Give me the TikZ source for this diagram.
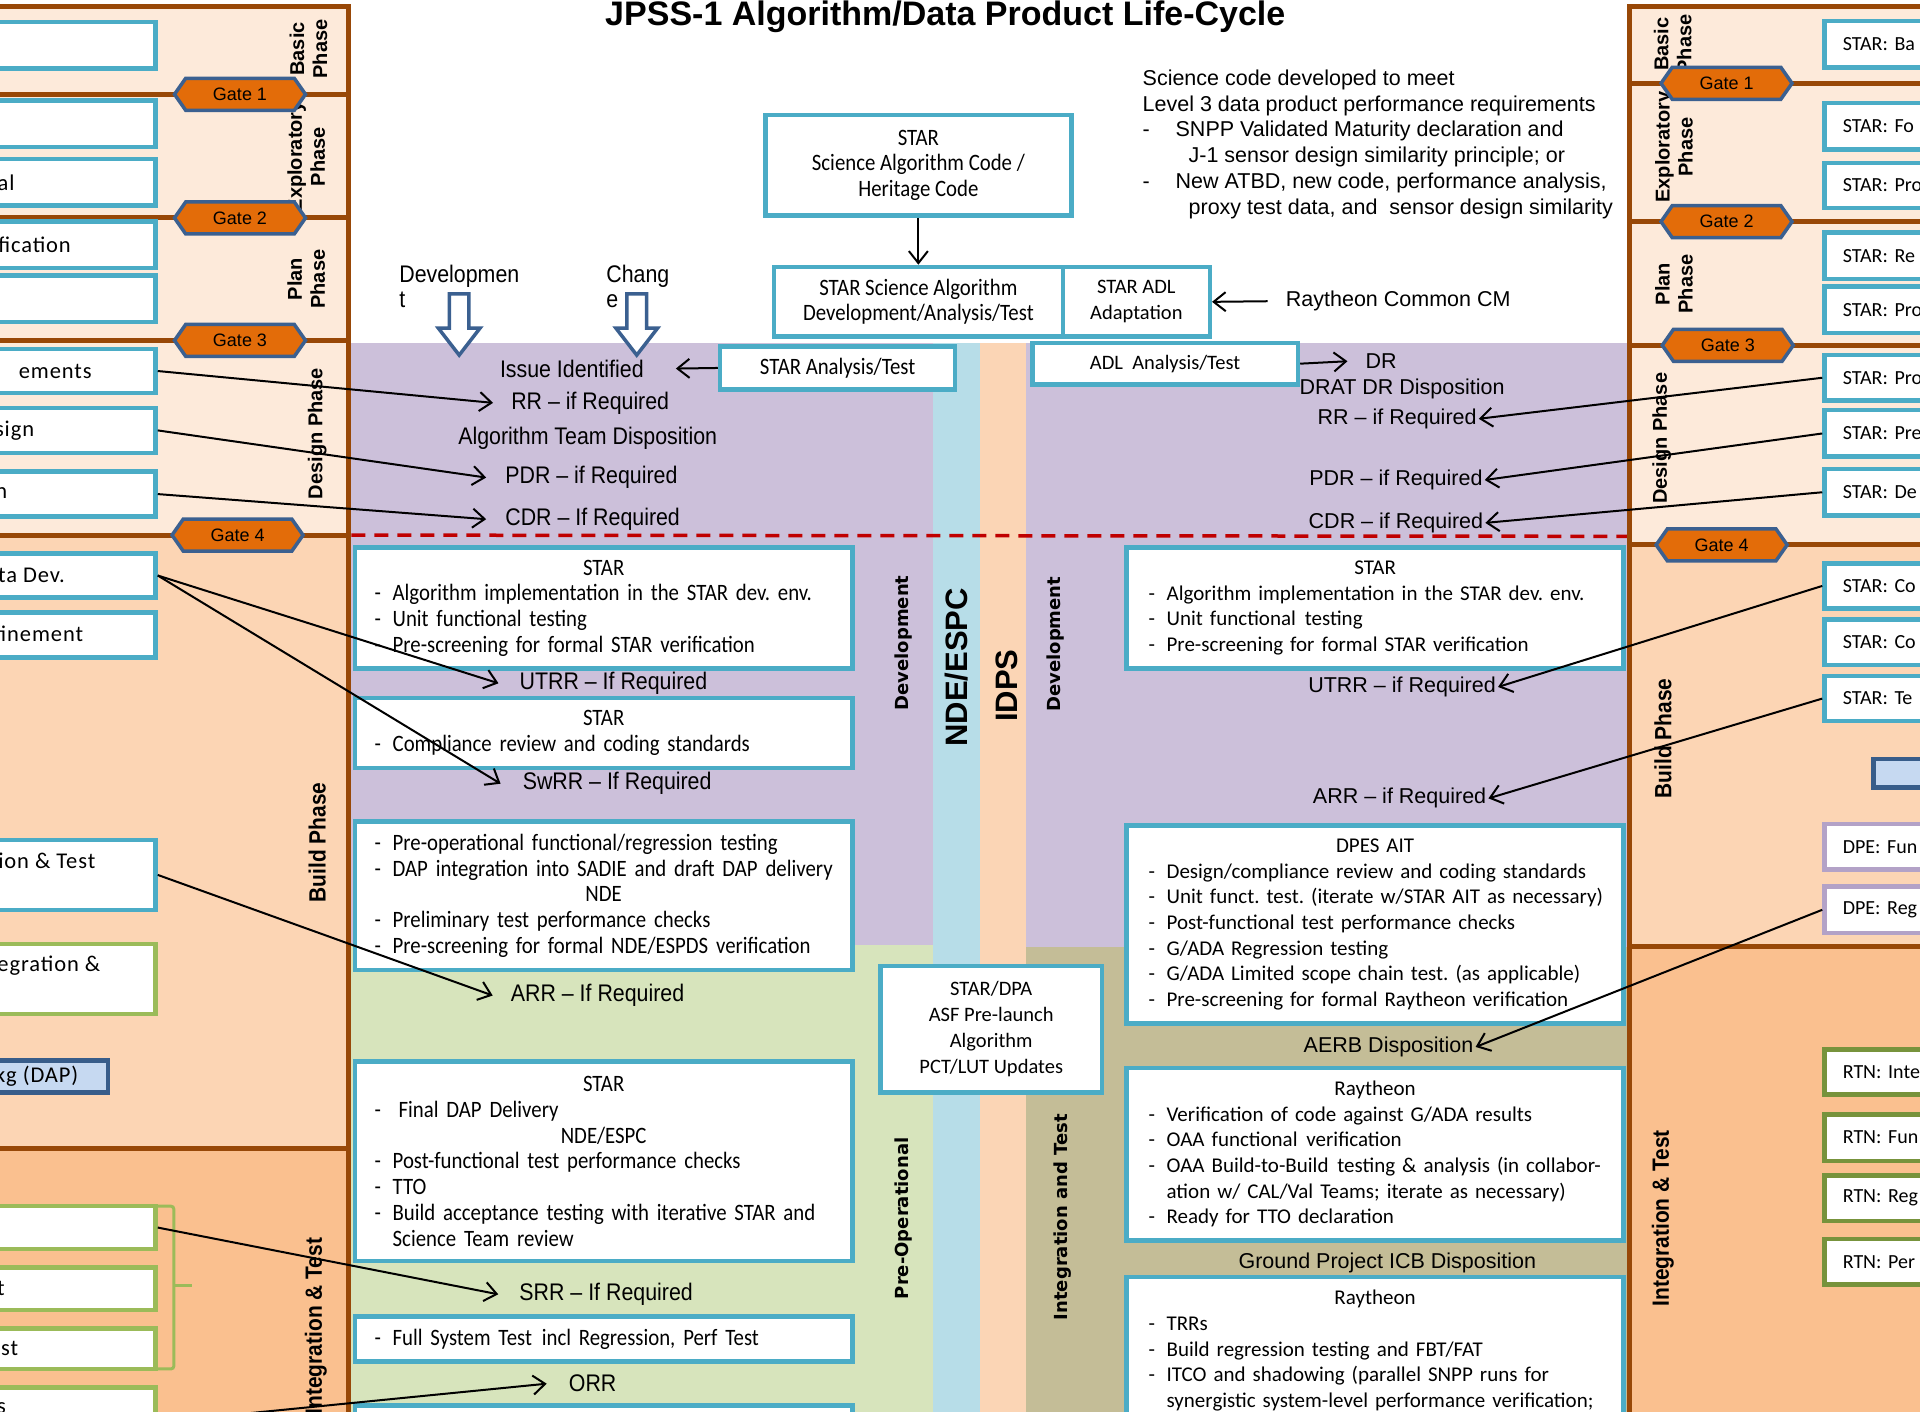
\documentclass[tikz,border=0pt]{standalone}
\usepackage{fontspec}
\usetikzlibrary{arrows.meta,shapes.symbols}
\newfontfamily\fcal{Carlito}
\newfontfamily\fcaln[FakeStretch=0.885]{Carlito}
\newfontfamily\fcalw[LetterSpace=4]{Carlito}
\newfontfamily\fari{Liberation Sans}
\newfontfamily\farin[FakeStretch=0.89]{Liberation Sans}
\newfontfamily\fdej{DejaVu Sans}

\definecolor{boxblue}{HTML}{4BACC6}
\definecolor{brownline}{HTML}{984807}
\definecolor{phlight}{HTML}{FDEADA}
\definecolor{phbuild}{HTML}{FCD5B4}
\definecolor{phint}{HTML}{FAC08F}
\definecolor{devpurple}{HTML}{CCC0DA}
\definecolor{opgreen}{HTML}{D7E4BC}
\definecolor{itkhaki}{HTML}{C4BD97}
\definecolor{ndeblue}{HTML}{B7DDE8}
\definecolor{idpspeach}{HTML}{FBD5B5}
\definecolor{gateorange}{HTML}{E36C09}
\definecolor{gateblue}{HTML}{3B6090}
\definecolor{dashred}{HTML}{C00000}
\definecolor{grnbox}{HTML}{9BBB59}
\definecolor{rtngreen}{HTML}{77933C}
\definecolor{dpepurple}{HTML}{B3A2C7}
\definecolor{dapfill}{HTML}{C6D9F1}
\definecolor{dapedge}{HTML}{385D8A}

% box content helpers: every line spans the full text width
\newcommand\hd[1]{\makebox[\hsize]{#1}}
\newcommand\itm[1]{\makebox[\hsize][l]{\makebox[18pt][l]{-}#1}}
\newcommand\cont[1]{\makebox[\hsize][l]{\hspace*{18pt}#1}}
\newcommand\sbt[1]{\makebox[245pt][l]{#1}}
\newcommand\wsp{\hspace{0.42em}}

\tikzset{
  corners/.code args={#1/#2/#3/#4}{%
    \pgfmathsetmacro\cwd{(#3-#1)*1.2245}%
    \pgfmathsetmacro\cht{(#4-#2)*1.2245}%
    \pgfmathsetmacro\ccx{(#1+#3)/2}%
    \pgfmathsetmacro\ccy{(#2+#4)/2}%
    \pgfkeysalso{at={(\ccx,\ccy)}, minimum width=\cwd pt, minimum height=\cht pt}},
  bx/.style={draw=boxblue, line width=4.5pt, fill=white, inner sep=0pt},
  gbx/.style={bx, draw=grnbox},
  pbx/.style={bx, draw=dpepurple},
  tbx/.style={bx, draw=rtngreen},
  dapbx/.style={bx, draw=dapedge, fill=dapfill},
  cbox/.style={bx, text width=458pt, align=left, font=\fcaln\fontsize{23.5}{25.7}\selectfont},
  rcbox/.style={bx, text width=453pt, align=left, font=\fcal\fontsize{21}{25.7}\selectfont},
  sidebox/.style={bx, text width=245pt, align=left, font=\fcal\fontsize{20}{24}\selectfont},
  ltxt/.style={font=\fcalw\fontsize{22.5}{24}\selectfont, inner sep=0pt},
  lbl/.style={font=\fari\fontsize{21.5}{25.7}\selectfont, inner sep=0pt},
  lbln/.style={font=\farin\fontsize{24}{24.5}\selectfont, inner sep=0pt},
  phase/.style={font=\fari\bfseries\fontsize{20}{23}\selectfont, rotate=90, align=center, inner sep=0pt},
  phasen/.style={font=\farin\bfseries\fontsize{23.5}{25}\selectfont, rotate=90, inner sep=0pt},
  vlab/.style={font=\fdej\bfseries\fontsize{18}{20}\selectfont, rotate=90, inner sep=0pt},
  vbig/.style={font=\fari\bfseries\fontsize{31}{33}\selectfont, rotate=90, inner sep=0pt},
  gate/.style={signal, signal to=east and west, signal pointer angle=110,
    draw=gateblue, fill=gateorange, line width=3.5pt, minimum width=131pt,
    minimum height=32pt, inner sep=0pt, font=\fari\fontsize{18}{20}\selectfont},
  phaseline/.style={draw=brownline, line width=5pt},
  arr/.style={line width=2pt, -{Straight Barb[length=12pt,width=19pt]}},
  hollowarrow/.style={draw=gateblue, fill=white, line width=3.5pt},
}

\begin{document}
\frenchspacing
\begin{tikzpicture}[x=1.2245pt, y=-1.2245pt]
\useasboundingbox (0,0) rectangle (1568,1153);
\clip (0,0) rectangle (1568,1153);
\fill[white] (0,0) rectangle (1568,1153);

% phase panels
\fill[phlight] (-10,5) rectangle (285,437);
\fill[phbuild] (-10,437) rectangle (285,938);
\fill[phint] (-10,938) rectangle (285,1170);
\fill[phlight] (1331,5) rectangle (1590,445);
\fill[phbuild] (1331,445) rectangle (1590,773);
\fill[phint] (1331,773) rectangle (1590,1170);

% central life-cycle bands
\fill[devpurple] (285,280) rectangle (1331,773);
\fill[opgreen] (285,772) rectangle (762,1170);
\fill[itkhaki] (838,773) rectangle (1331,1170);
\fill[ndeblue] (762,280) rectangle (800,1170);
\fill[idpspeach] (800,280) rectangle (838,1170);

% design / build boundary
\draw[draw=dashred, line width=3.5pt, dash pattern=on 14pt off 9pt] (287,437) -- (1329,438);

% phase frame lines
\draw[phaseline] (-10,5) -- (285,5) -- (285,1170);
\foreach \yy in {77,178,278,437,938} \draw[phaseline] (-10,\yy) -- (285,\yy);
\draw[phaseline] (1590,5) -- (1331,5) -- (1331,1170);
\foreach \yy in {68,181,282,445,773} \draw[phaseline] (1331,\yy) -- (1590,\yy);

% title and notes
\node[font=\fari\bfseries\fontsize{34}{36}\selectfont, anchor=base, inner sep=0pt] (title) at (772,21) {JPSS-1 Algorithm/Data Product Life-Cycle};
\node[lbl, align=left, anchor=north west] (notes) at (933,57) {Science code developed to meet\\
Level 3 data product performance requirements\\
\makebox[33pt][l]{-}SNPP Validated Maturity declaration and\\
\hspace*{46pt}J-1 sensor design similarity principle; or\\
\makebox[33pt][l]{-}New ATBD, new code, performance analysis,\\
\hspace*{46pt}proxy test data, and~~sensor design similarity};

% phase names, left
\node[phase] (pbL) at (252,40) {Basic\\Phase};
\node[phase] (peL) at (250,128) {Exploratory\\Phase};
\node[phase] (ppL) at (250,228) {Plan\\Phase};
\node[phase] (pdL) at (259,354) {Design Phase};
\node[phasen] (puL) at (259,688) {Build Phase};
\node[phasen] (piL) at (258,1083) {Integration \& Test};
% phase names, right
\node[phase] (pbR) at (1366,36) {Basic\\Phase};
\node[phase] (peR) at (1367,120) {Exploratory\\Phase};
\node[phase] (ppR) at (1367,232) {Plan\\Phase};
\node[phase] (pdR) at (1357,358) {Design Phase};
\node[phasen] (puR) at (1358,603) {Build Phase};
\node[phasen] (piR) at (1358,995) {Integration \& Test};

% gates
\node[gate] (gL1) at (196,77) {Gate 1};
\node[gate] (gL2) at (196,178) {Gate 2};
\node[gate] (gL3) at (196,278) {Gate 3};
\node[gate] (gL4) at (194,437) {Gate 4};
\node[gate] (gR1) at (1410,68) {Gate 1};
\node[gate] (gR2) at (1410,181) {Gate 2};
\node[gate] (gR3) at (1411,282) {Gate 3};
\node[gate] (gR4) at (1406,445) {Gate 4};

% left column activity boxes
\node[bx, corners=-40/18/127/56] (l1) {};
\node[bx, corners=-40/82/127/120] (l2) {};
\node[bx, corners=-40/130/127/168] (l3) {};
\node[bx, corners=-40/181/127/219] (l4) {};
\node[bx, corners=-40/225/127/263] (l5) {};
\node[bx, corners=-40/285/127/321] (l6) {};
\node[bx, corners=-40/333/127/370] (l7) {};
\node[bx, corners=-40/385/127/422] (l8) {};
\node[bx, corners=-40/452/127/488] (l9) {};
\node[bx, corners=-40/500/127/537] (l10) {};
\node[bx, corners=-40/686/127/743] (l11) {};
\node[gbx, corners=-40/771/127/828] (l12) {};
\node[dapbx, corners=-40/866/88/892] (l13) {};
\node[gbx, corners=-40/985/127/1020] (l14) {};
\node[gbx, corners=-40/1035/127/1070] (l15) {};
\node[gbx, corners=-40/1085/127/1118] (l16) {};
\node[gbx, corners=-40/1133/127/1190] (l17) {};
\node[ltxt, anchor=east] (t3) at (12,149) {al};
\node[ltxt, anchor=east] (t4) at (58,200) {ification};
\node[ltxt, anchor=east] (t6) at (75,303) {ements};
\node[ltxt, anchor=east] (t7) at (28,352) {sign};
\node[ltxt, anchor=east] (t8) at (6,403) {n};
\node[ltxt, anchor=east] (t9) at (53,470) {ata Dev.};
\node[ltxt, anchor=east] (t10) at (68,518) {efinement};
\node[ltxt, anchor=east] (t11) at (78,703) {tion \& Test};
\node[ltxt, anchor=east] (t12) at (82,789) {ntegration \&};
\node[ltxt, anchor=east] (t13) at (64,879) {Pkg (DAP)};
\node[ltxt, anchor=east] (t15) at (4,1052) {t};
\node[ltxt, anchor=east] (t16) at (15,1101) {est};
\node[ltxt, anchor=east] (t17) at (5,1150) {s};
\draw[draw=grnbox, line width=3pt, rounded corners=3pt] (127,985) -- (142,985) -- (142,1118) -- (127,1118);
\draw[draw=grnbox, line width=3pt] (142,1050) -- (157,1050);

% right column activity boxes
\node[sidebox, corners=1490/17/1720/55] (r1) {\sbt{STAR: Ba}};
\node[sidebox, corners=1490/84/1720/122] (r2) {\sbt{STAR: Fo}};
\node[sidebox, corners=1490/133/1720/170] (r3) {\sbt{STAR: Pro}};
\node[sidebox, corners=1490/190/1720/228] (r4) {\sbt{STAR: Re}};
\node[sidebox, corners=1490/234/1720/272] (r5) {\sbt{STAR: Pro}};
\node[sidebox, corners=1490/290/1720/327] (r6) {\sbt{STAR: Pro}};
\node[sidebox, corners=1490/335/1720/373] (r7) {\sbt{STAR: Pre}};
\node[sidebox, corners=1490/383/1720/421] (r8) {\sbt{STAR: De}};
\node[sidebox, corners=1490/460/1720/497] (r9) {\sbt{STAR: Co}};
\node[sidebox, corners=1490/506/1720/543] (r10) {\sbt{STAR: Co}};
\node[sidebox, corners=1490/552/1720/589] (r11) {\sbt{STAR: Te}};
\node[dapbx, corners=1530/620/1720/643] (r12) {};
\node[sidebox, pbx, corners=1490/673/1720/710] (r13) {\sbt{DPE: Fun}};
\node[sidebox, pbx, corners=1490/724/1720/762] (r14) {\sbt{DPE: Reg}};
\node[sidebox, tbx, corners=1490/857/1720/894] (r15) {\sbt{RTN: Inte}};
\node[sidebox, tbx, corners=1490/910/1720/948] (r16) {\sbt{RTN: Fun}};
\node[sidebox, tbx, corners=1490/960/1720/997] (r17) {\sbt{RTN: Reg}};
\node[sidebox, tbx, corners=1490/1012/1720/1049] (r18) {\sbt{RTN: Per}};

% code flow at the top
\node[bx, corners=625/94/875/176, align=center, font=\fcaln\fontsize{23.5}{25.7}\selectfont] (code) {STAR\\Science Algorithm Code /\\Heritage Code};
\node[bx, corners=632/218/868/275, align=center, font=\fcaln\fontsize{23.5}{25.7}\selectfont] (dev) {STAR Science Algorithm\\Development/Analysis/Test};
\node[bx, corners=868/218/988/275, align=center, font=\fcal\fontsize{20.5}{25.7}\selectfont] (adl) {STAR ADL\\Adaptation};
\node[bx, corners=588/283/780/318, align=center, font=\fcaln\fontsize{23.5}{25.7}\selectfont] (sat) {STAR Analysis/Test};
\node[bx, corners=843/280/1060/314, align=center, font=\fcal\fontsize{20.5}{25.7}\selectfont] (adlt) {ADL~~Analysis/Test};
\node[lbl, anchor=west] (rcm) at (1050,246) {Raytheon Common CM};

% change entry points
\node[lbln, align=left, anchor=west] (devin) at (326,234) {Developmen\\t};
\node[lbln, align=left, anchor=west] (chgin) at (495,234) {Chang\\e};
\draw[hollowarrow] (367,240) -- (383,240) -- (383,268) -- (392,268) -- (375,290) -- (358,268) -- (367,268) -- cycle;
\draw[hollowarrow] (512,240) -- (528,240) -- (528,268) -- (537,268) -- (520,290) -- (503,268) -- (512,268) -- cycle;

% left-side reviews (design phase)
\node[lbln] (issue) at (467,301) {Issue Identified};
\node[lbln] (rrL) at (482,329) {RR – if Required};
\node[lbln] (atd) at (480,358) {Algorithm Team Disposition};
\node[lbln] (pdrL) at (483,390) {PDR – if Required};
\node[lbln] (cdrL) at (484,424) {CDR – If Required};

% right-side reviews (design phase)
\node[lbl] (dr) at (1128,295) {DR};
\node[lbl] (drat) at (1145,318) {DRAT DR Disposition};
\node[lbl] (rrR) at (1141,342) {RR – if Required};
\node[lbl] (pdrR) at (1140,392) {PDR – if Required};
\node[lbl] (cdrR) at (1140,427) {CDR – if Required};

% STAR / NDE build and test boxes
\node[cbox, corners=290/447/696/546] (sa) {\hd{STAR}\\
\itm{Algorithm implementation in the STAR dev. env.}\\
\itm{Unit functional testing}\\
\itm{Pre-screening for formal STAR verification}};
\node[lbln] (utrrL) at (501,558) {UTRR – If Required};
\node[cbox, corners=290/570/696/627] (sb) {\hd{STAR}\\
\itm{Compliance review and coding standards}};
\node[lbln] (swrrL) at (504,640) {SwRR – If Required};
\node[cbox, corners=290/671/696/792] (sc) {\itm{Pre-operational functional/regression testing}\\
\itm{DAP integration into SADIE and draft DAP delivery}\\
\hd{NDE}\\
\itm{Preliminary test performance checks}\\
\itm{Pre-screening for formal NDE/ESPDS verification}};
\node[lbln] (arrL) at (488,813) {ARR – If Required};
\node[cbox, corners=290/867/696/1030] (sd) {\hd{STAR}\\
\makebox[\hsize][l]{\makebox[24pt][l]{-}Final DAP Delivery}\\
\hd{NDE/ESPC}\\
\itm{Post-functional test performance checks}\\
\itm{TTO}\\
\itm{Build acceptance testing with iterative STAR and}\\
\cont{Science Team review}};
\node[lbln] (srrL) at (495,1057) {SRR – If Required};
\node[cbox, corners=290/1075/696/1112] (se) {\itm{Full System Test\wsp incl Regression, Perf Test}};
\node[lbln] (orr) at (484,1130) {ORR};
\node[bx, corners=290/1148/696/1200] (sf) {};

% band names
\node[vlab] (devA) at (738,525) {Development};
\node[vbig] (nde) at (781,545) {NDE/ESPC};
\node[vbig] (idps) at (822,560) {IDPS};
\node[vlab] (devB) at (862,526) {Development};
\node[vlab] (preop) at (738,995) {Pre-Operational};
\node[vlab] (intt) at (868,994) {Integration and Test};

\node[bx, corners=719/789/900/892, align=center, font=\fcal\fontsize{20.5}{26}\selectfont] (dpa) {STAR/DPA\\ASF Pre-launch\\Algorithm\\PCT/LUT Updates};

% IDPS / Raytheon boxes
\node[rcbox, corners=920/447/1326/546] (ra) {\hd{STAR}\\
\itm{Algorithm implementation in the STAR dev. env.}\\
\itm{Unit functional\wsp testing}\\
\itm{Pre-screening for formal STAR verification}};
\node[lbl] (utrrR) at (1145,561) {UTRR – if Required};
\node[lbl] (arrR) at (1143,652) {ARR – if Required};
\node[rcbox, corners=920/674/1326/836] (rb) {\hd{DPES AIT}\\
\itm{Design/compliance review and coding standards}\\
\itm{Unit funct. test. (iterate w/STAR AIT as necessary)}\\
\itm{Post-functional test performance checks}\\
\itm{G/ADA Regression testing}\\
\itm{G/ADA Limited scope chain test. (as applicable)}\\
\itm{Pre-screening for formal Raytheon verification}};
\node[lbl] (aerb) at (1134,855) {AERB Disposition};
\node[rcbox, corners=920/872/1326/1013] (rc) {\hd{Raytheon}\\
\itm{Verification of code against G/ADA results}\\
\itm{OAA functional\wsp verification}\\
\itm{OAA Build-to-Build\wsp testing \& analysis (in collabor-}\\
\cont{ation w/ CAL/Val Teams; iterate as necessary)}\\
\itm{Ready for TTO declaration}};
\node[lbl] (icb) at (1133,1031) {Ground Project ICB Disposition};
\node[rcbox, corners=920/1043/1326/1163] (rd) {\hd{Raytheon}\\
\itm{TRRs}\\
\itm{Build regression testing and FBT/FAT}\\
\itm{ITCO and shadowing (parallel SNPP runs for}\\
\cont{synergistic system-level performance verification;}};

% connectors
\draw[arr] (code.south) -- (dev.north);
\draw[arr] ([xshift=-18pt]rcm.west) -- (adl.east);
\draw[arr] (sat.west) -- ([xshift=32pt]issue.east);
\draw[arr] (adlt.east) -- ([xshift=-18pt]dr.west);

\draw[arr] (l6.east) -- ([xshift=-18pt]rrL.west);
\draw[arr] (l7.east) -- ([xshift=-19pt]pdrL.west);
\draw[arr] (l8.east) -- ([xshift=-19pt]cdrL.west);
\draw[arr] (l9.east) -- ([xshift=-21pt]utrrL.west);
\draw[arr] (l9.east) -- ([xshift=-22pt]swrrL.west);
\draw[arr] (l11.east) -- ([xshift=-18pt]arrL.west);
\draw[arr] (l14.east) -- ([xshift=-21pt]srrL.west);
\draw[arr] (l17.east) -- ([xshift=-22pt]orr.west);

\draw[arr] (r6.west) -- ([xshift=2pt]rrR.east);
\draw[arr] (r7.west) -- ([xshift=2pt]pdrR.east);
\draw[arr] (r8.west) -- ([xshift=2pt]cdrR.east);
\draw[arr] (r9.west) -- ([xshift=2pt]utrrR.east);
\draw[arr] (r11.west) -- ([xshift=2pt]arrR.east);
\draw[arr] (r14.west) -- ([xshift=2pt]aerb.east);
\end{tikzpicture}
\end{document}
